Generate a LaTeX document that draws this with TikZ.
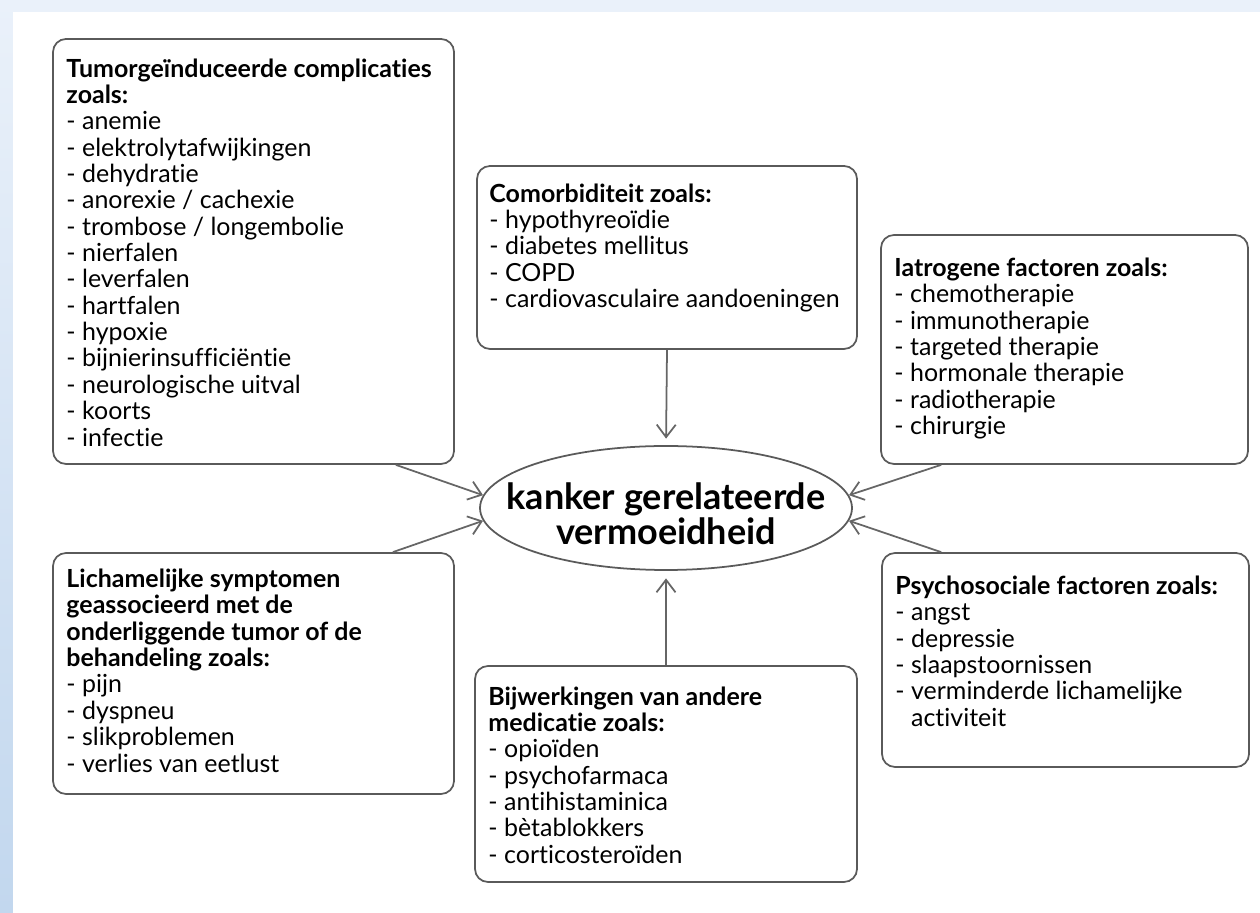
\documentclass[tikz,border=0pt]{standalone}
\usepackage{fontspec}
\setmainfont{Lato}[Ligatures=NoCommon]
\usepackage{tikz}
\usetikzlibrary{arrows.meta,shapes.geometric,positioning}
\definecolor{rand}{HTML}{5A5A5A}
\definecolor{pijlgrijs}{HTML}{666666}
\definecolor{strooklicht}{HTML}{EAF1FA}
\definecolor{strookdonker}{HTML}{C2D7EE}

\begin{document}
\begin{tikzpicture}[
  kader/.style={draw=rand, line width=1pt, rounded corners=0.26cm, inner sep=0},
  tekst/.style={anchor=north west, align=left, inner sep=0, font=\fontsize{14.2}{15}\selectfont},
  pijl/.style={draw=pijlgrijs, line width=1pt, -{Straight Barb[length=2.5mm,width=3.8mm]}}]
\useasboundingbox (0,0) rectangle (25.2,18.24);
\shade[bottom color=strookdonker, top color=strooklicht] (0,0) rectangle (0.26,18.24);
\shade[left color=strooklicht, middle color=white, right color=strooklicht] (0.26,18.0) rectangle (25.2,18.24);

\node[kader, minimum width=8.02cm, minimum height=8.50cm] (tumor) at (5.07,13.21) {};
\node[tekst] (tumortekst) at ([xshift=0.28cm,yshift=-0.40cm]tumor.north west) {\textbf{Tumorgeïnduceerde complicaties}\\
\textbf{zoals:}\\
- anemie\\
- elektrolytafwijkingen\\
- dehydratie\\
- anorexie / cachexie\\
- trombose / longembolie\\
- nierfalen\\
- leverfalen\\
- hartfalen\\
- hypoxie\\
- bijnierinsufficiëntie\\
- neurologische uitval\\
- koorts\\
- infectie};

\node[kader, minimum width=7.60cm, minimum height=3.66cm] (comor) at (13.34,13.09) {};
\node[tekst] (comortekst) at ([xshift=0.26cm,yshift=-0.36cm]comor.north west) {\textbf{Comorbiditeit zoals:}\\
- hypothyreoïdie\\
- diabetes mellitus\\
- COPD\\
- cardiovasculaire aandoeningen};

\node[kader, minimum width=7.34cm, minimum height=4.58cm] (iatro) at (21.29,11.25) {};
\node[tekst] (iatrotekst) at ([xshift=0.28cm,yshift=-0.47cm]iatro.north west) {\textbf{Iatrogene factoren zoals:}\\
- chemotherapie\\
- immunotherapie\\
- targeted therapie\\
- hormonale therapie\\
- radiotherapie\\
- chirurgie};

\node[kader, minimum width=8.02cm, minimum height=4.82cm] (lich) at (5.07,4.77) {};
\node[tekst] (lichtekst) at ([xshift=0.28cm,yshift=-0.33cm]lich.north west) {\textbf{Lichamelijke symptomen}\\
\textbf{geassocieerd met de}\\
\textbf{onderliggende tumor of de}\\
\textbf{behandeling zoals:}\\
- pijn\\
- dyspneu\\
- slikproblemen\\
- verlies van eetlust};

\node[kader, minimum width=7.64cm, minimum height=4.32cm] (bijw) at (13.32,2.76) {};
\node[tekst] (bijwtekst) at ([xshift=0.28cm,yshift=-0.42cm]bijw.north west) {\textbf{Bijwerkingen van andere}\\
\textbf{medicatie zoals:}\\
- opioïden\\
- psychofarmaca\\
- antihistaminica\\
- bètablokkers\\
- corticosteroïden};

\node[kader, minimum width=7.34cm, minimum height=4.28cm] (psycho) at (21.31,5.04) {};
\node[tekst] (psychotekst) at ([xshift=0.28cm,yshift=-0.47cm]psycho.north west) {\textbf{Psychosociale factoren zoals:}\\
- angst\\
- depressie\\
- slaapstoornissen\\
- verminderde lichamelijke\\
\hphantom{- }activiteit};

\node[ellipse, draw=rand, line width=1pt, minimum width=7.44cm, minimum height=2.48cm, inner sep=0] (kgv) at (13.32,8.08) {};
\node[align=center, inner sep=0, font=\fontsize{20.5}{20}\selectfont\bfseries] (kgvtekst) at ([yshift=-0.12cm]kgv.center) {kanker gerelateerde\\vermoeidheid};

\draw[pijl] ([xshift=-1.18cm]tumor.south east) -- (kgv.176);
\draw[pijl, shorten >=1.3mm] (comor.south) -- (kgv.north);
\draw[pijl] ([xshift=1.22cm]iatro.south west) -- (kgv.4);
\draw[pijl] ([xshift=-1.24cm]lich.north east) -- (kgv.184);
\draw[pijl, shorten >=1.5mm] (bijw.north) -- (kgv.south);
\draw[pijl] ([xshift=1.2cm]psycho.north west) -- (kgv.356);
\end{tikzpicture}
\end{document}
